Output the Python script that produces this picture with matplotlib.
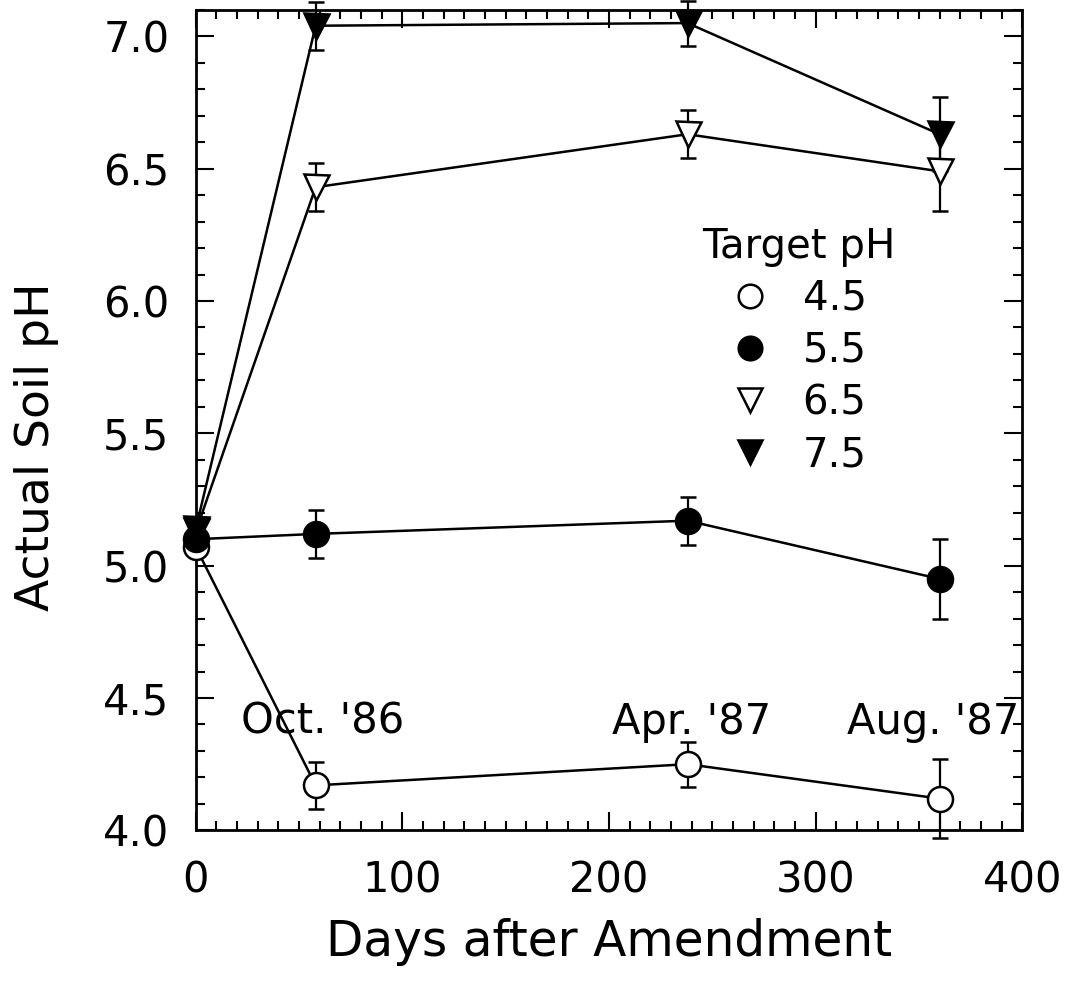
import matplotlib.pyplot as plt
import numpy as np
from matplotlib.lines import Line2D
from matplotlib.ticker import MultipleLocator

# sampling days after amendment
days = [0, 58, 238, 360]

# mean soil pH for each target pH, with error bar half-widths
ph_45 = [5.07, 4.17, 4.25, 4.12]
err_45 = [0.0, 0.09, 0.085, 0.15]
ph_55 = [5.10, 5.12, 5.17, 4.95]
err_55 = [0.0, 0.09, 0.09, 0.15]
ph_65 = [5.13, 6.43, 6.63, 6.49]
err_65 = [0.0, 0.09, 0.09, 0.15]
ph_75 = [5.14, 7.04, 7.05, 6.63]
err_75 = [0.0, 0.09, 0.085, 0.14]

series = [
    ('4.5', ph_45, err_45, 'o', 'white'),
    ('5.5', ph_55, err_55, 'o', 'black'),
    ('6.5', ph_65, err_65, 'v', 'white'),
    ('7.5', ph_75, err_75, 'v', 'black'),
]

dates = ["Oct. '86", "Apr. '87", "Aug. '87"]
date_x = [61.5, 240, 357]
date_y = 4.41

plt.rcParams['font.family'] = ['DejaVu Sans']

fig = plt.figure(figsize=(10.76, 9.85), dpi=100)
ax = fig.add_axes([0.182, 0.157, 0.768, 0.833])

for name, y, err, mk, fc in series:
    ax.errorbar(days, y, yerr=err, color='black', lw=1.8, elinewidth=1.6,
                capsize=6, capthick=1.6, marker=mk, markersize=18,
                markerfacecolor=fc, markeredgecolor='black', markeredgewidth=1.8,
                clip_on=False, zorder=3)

for label, x in zip(dates, date_x):
    ax.text(x, date_y, label, fontsize=30, ha='center', va='center')

ax.set_xlim(0, 400)
ax.set_ylim(4.0, 7.1)
ax.xaxis.set_major_locator(MultipleLocator(100))
ax.xaxis.set_minor_locator(MultipleLocator(10))
ax.yaxis.set_major_locator(MultipleLocator(0.5))
ax.yaxis.set_minor_locator(MultipleLocator(0.1))
ax.yaxis.set_major_formatter(lambda v, p: f'{v:.1f}')
ax.tick_params(which='both', direction='in', top=True, right=True, width=1.5, labelsize=30)
ax.tick_params(which='major', length=13)
ax.tick_params(which='minor', length=6.5)
ax.tick_params(axis='x', which='major', pad=21)
ax.tick_params(axis='y', which='major', pad=19)
for s in ax.spines.values():
    s.set_linewidth(2)

ax.set_xlabel('Days after Amendment', fontsize=35)
ax.set_ylabel('Actual Soil pH', fontsize=34)
ax.xaxis.set_label_coords(0.5, -0.107)
ax.yaxis.set_label_coords(-0.165, 0.468)

handles = [Line2D([], [], ls='none', marker=mk, markersize=17, markerfacecolor=fc,
                  markeredgecolor='black', markeredgewidth=1.8)
           for _, _, _, mk, fc in series]
leg = ax.legend(handles, [s[0] for s in series], title='Target pH', frameon=False,
                fontsize=29, title_fontsize=29, loc='upper left',
                bbox_to_anchor=(0.578, 0.77), handlelength=1.0, handletextpad=0.8,
                labelspacing=0.3, borderpad=0.2)

fig.savefig('out.png', dpi=100)
